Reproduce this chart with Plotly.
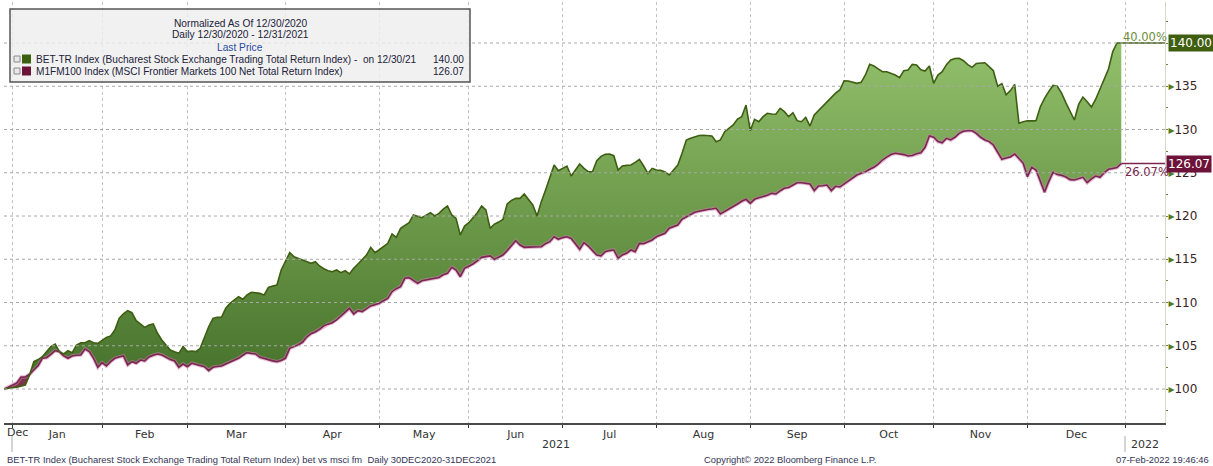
import plotly.graph_objects as go

# ---------------- data ----------------
def _m(ym, days):
    return ["%s-%02d" % (ym, d) for d in days]

dates = (["2020-12-30", "2020-12-31"]
         + _m("2021-01", (4, 5, 6, 7, 8, 11, 12, 13, 14, 15, 18, 19, 20, 21, 22, 25, 26, 27, 28, 29))
         + _m("2021-02", (1, 2, 3, 4, 5, 8, 9, 10, 11, 12, 15, 16, 17, 18, 19, 22, 23, 24, 25, 26))
         + _m("2021-03", (1, 2, 3, 4, 5, 8, 9, 10, 11, 12, 15, 16, 17, 18, 19, 22, 23, 24, 25, 26, 29, 30, 31))
         + _m("2021-04", (1, 2, 5, 6, 7, 8, 9, 12, 13, 14, 15, 16, 19, 20, 21, 22, 23, 26, 27, 28, 29, 30))
         + _m("2021-05", (3, 4, 5, 6, 7, 10, 11, 12, 13, 14, 17, 18, 19, 20, 21, 24, 25, 26, 27, 28, 31))
         + _m("2021-06", (1, 2, 3, 4, 7, 8, 9, 10, 11, 14, 15, 16, 17, 18, 21, 22, 23, 24, 25, 28, 29, 30))
         + _m("2021-07", (1, 2, 5, 6, 7, 8, 9, 12, 13, 14, 15, 16, 19, 20, 21, 22, 23, 26, 27, 28, 29, 30))
         + _m("2021-08", (2, 3, 4, 5, 6, 9, 10, 11, 12, 13, 16, 17, 18, 19, 20, 23, 24, 25, 26, 27, 30, 31))
         + _m("2021-09", (1, 2, 3, 6, 7, 8, 9, 10, 13, 14, 15, 16, 17, 20, 21, 22, 23, 24, 27, 28, 29, 30))
         + _m("2021-10", (1, 4, 5, 6, 7, 8, 11, 12, 13, 14, 15, 18, 19, 20, 21, 22, 25, 26, 27, 28, 29))
         + _m("2021-11", (1, 2, 3, 4, 5, 8, 9, 10, 11, 12, 15, 16, 17, 18, 19, 22, 23, 24, 25, 26, 29, 30))
         + _m("2021-12", (1, 2, 3, 6, 7, 8, 9, 10, 13, 14, 15, 16, 17, 20, 21, 22, 23, 24, 27, 28, 29, 30, 31)))

bet = ([100.0, 100.1]
       + [100.2, 100.35, 100.46, 101.62, 103.16, 103.4, 103.74, 104.32, 104.9, 105.2, 104.32, 104.05, 104.43, 104.2, 105.09, 105.35, 105.35, 105.59, 105.35, 105.28]
       + [105.6, 105.97, 106.13, 106.82, 108.17, 108.7, 109.05, 108.82, 107.9, 107.5, 107.13, 107.4, 107.51, 106.44, 105.66, 105.09, 104.51, 104.3, 104.12, 104.9]
       + [104.32, 104.4, 104.32, 104.7, 105.9, 107.2, 108.17, 108.3, 108.29, 109.33, 109.9, 110.3, 110.67, 110.37, 110.87, 111.18, 111.1, 111.06, 110.87, 111.75, 111.9, 112.02, 113.76]
       + [114.8, 115.76, 115.3, 115.1, 114.9, 114.72, 114.53, 114.72, 114.22, 113.9, 113.68, 113.56, 113.76, 113.45, 113.68, 113.3, 113.95, 114.45, 115.0, 115.49, 116.38, 115.76]
       + [116.1, 116.45, 116.84, 117.92, 117.53, 118.57, 118.9, 119.22, 120.12, 120.0, 119.8, 120.1, 120.38, 120.0, 120.31, 120.8, 121.16, 120.12, 119.73, 117.8, 118.84]
       + [119.22, 119.8, 120.38, 121.16, 120.69, 118.57, 119.07, 119.3, 119.61, 121.39, 121.8, 122.04, 122.04, 122.54, 121.9, 121.27, 120.0, 121.66, 123.01, 124.5, 125.9, 125.24]
       + [125.5, 125.78, 124.62, 125.3, 126.01, 125.5, 125.12, 125.12, 126.39, 126.9, 127.13, 127.17, 126.97, 125.32, 125.78, 125.85, 125.9, 126.2, 126.55, 125.78, 124.93, 125.51]
       + [125.32, 125.28, 125.1, 124.74, 125.3, 125.9, 127.25, 128.79, 129.0, 129.17, 129.3, 129.33, 129.3, 129.25, 128.59, 128.79, 129.75, 130.1, 130.52, 131.2, 131.48, 132.83]
       + [129.87, 131.18, 130.9, 131.48, 131.87, 131.8, 131.76, 132.45, 132.06, 131.48, 131.94, 131.02, 130.9, 131.41, 130.4, 131.68, 132.18, 132.7, 133.21, 133.8, 134.2, 134.57]
       + [135.64, 135.6, 135.5, 135.34, 135.45, 136.3, 137.53, 137.34, 137.0, 136.68, 136.68, 136.5, 136.3, 135.99, 136.8, 136.87, 137.53, 137.45, 136.9, 136.75, 137.34]
       + [135.34, 136.3, 136.68, 137.5, 138.03, 138.2, 138.23, 137.95, 137.5, 137.19, 137.64, 137.7, 137.72, 137.26, 136.8, 135.0, 135.3, 134.0, 134.5, 135.22, 130.72, 130.9]
       + [131.02, 131.0, 131.02, 132.6, 133.6, 134.4, 135.1, 135.0, 134.2, 133.1, 132.0, 131.1, 132.9, 133.75, 133.2, 132.6, 133.5, 134.7, 135.9, 137.0, 139.0, 140.0, 140.0])

msci = ([100.0, 100.2]
        + [100.7, 101.39, 101.39, 101.7, 102.2, 102.7, 103.55, 103.62, 104.0, 104.43, 104.3, 103.82, 103.55, 103.82, 103.9, 103.93, 104.63, 104.32, 103.55, 102.51]
        + [103.05, 102.66, 103.16, 103.55, 103.7, 103.82, 102.78, 103.16, 102.97, 103.35, 103.24, 103.7, 103.9, 104.05, 103.93, 103.66, 103.4, 103.24, 102.51, 102.89]
        + [102.58, 102.97, 102.85, 102.7, 102.58, 102.12, 102.51, 102.6, 102.66, 102.9, 103.09, 103.28, 103.55, 103.9, 104.2, 104.1, 104.05, 103.66, 103.5, 103.35, 103.25, 103.16, 103.3]
        + [103.55, 104.7, 104.9, 105.1, 105.4, 106.0, 106.4, 106.6, 106.9, 107.3, 107.5, 107.66, 107.98, 108.4, 108.82, 109.33, 108.67, 109.05, 108.94, 109.3, 109.6, 109.75]
        + [109.9, 110.2, 110.48, 111.25, 111.6, 111.83, 112.8, 112.87, 112.5, 112.22, 112.52, 112.6, 112.68, 112.8, 112.9, 113.2, 113.37, 114.07, 113.76, 112.98, 113.95]
        + [114.2, 114.45, 114.8, 115.22, 115.3, 115.38, 114.99, 115.2, 115.49, 116.0, 116.6, 117.14, 116.65, 116.38, 116.4, 116.4, 116.4, 116.45, 116.8, 117.03, 117.6, 117.3]
        + [117.5, 117.6, 117.4, 116.7, 116.15, 116.92, 116.53, 116.0, 115.49, 115.38, 115.87, 116.0, 116.07, 115.11, 115.5, 115.68, 116.07, 115.87, 116.84, 116.8, 117.0, 117.23]
        + [117.61, 117.8, 118.0, 118.58, 118.8, 118.96, 119.62, 119.9, 120.12, 120.43, 120.55, 120.69, 120.76, 120.8, 120.89, 120.23, 120.5, 120.76, 121.1, 121.39, 121.7, 121.93]
        + [121.47, 121.93, 122.1, 122.23, 122.4, 122.62, 122.54, 122.9, 123.2, 123.3, 123.6, 123.85, 123.85, 123.8, 123.7, 122.93, 123.47, 123.5, 123.58, 122.93, 123.43, 123.35]
        + [123.7, 123.97, 124.4, 124.74, 124.93, 125.1, 125.4, 125.63, 126.0, 126.47, 126.8, 127.1, 127.25, 127.2, 127.1, 126.94, 127.0, 127.2, 127.3, 127.94, 129.25]
        + [129.1, 128.6, 128.47, 128.98, 128.79, 129.1, 129.56, 129.8, 129.86, 129.86, 129.56, 129.1, 128.79, 128.6, 128.21, 127.3, 126.55, 126.7, 126.83, 127.17, 126.6, 126.09]
        + [124.55, 125.63, 125.32, 124.0, 122.74, 124.0, 125.05, 124.8, 124.7, 124.5, 124.2, 124.16, 124.3, 124.47, 123.85, 124.3, 124.62, 124.47, 125.0, 125.4, 125.5, 125.6, 126.07])

assert len(dates) == len(bet) == len(msci), (len(dates), len(bet), len(msci))

month_labels = ["Jan", "Feb", "Mar", "Apr", "May", "Jun", "Jul", "Aug", "Sep", "Oct", "Nov", "Dec"]
month_label_pos = ["2021-01-15 12:00", "2021-02-15", "2021-03-16 12:00", "2021-04-16", "2021-05-17 12:00",
                   "2021-06-16", "2021-07-16", "2021-08-17", "2021-09-16", "2021-10-15 12:00",
                   "2021-11-16", "2021-12-16 12:00"]
month_starts = ["2021-01-01", "2021-02-01", "2021-03-01", "2021-04-01", "2021-05-03", "2021-06-01",
                "2021-07-01", "2021-08-02", "2021-09-01", "2021-10-01", "2021-11-01", "2021-12-01",
                "2022-01-03"]
y_ticks = [100, 105, 110, 115, 120, 125, 130, 135, 140]
y_tick_text = ["100", "105", "110", "115", "120", "125", "130", "135", ""]

bet_name = "BET-TR Index (Bucharest Stock Exchange Trading Total Return Index)"
msci_name = "M1FM100 Index (MSCI Frontier Markets 100 Net Total Return Index)"

# ---------------- styling ----------------
W, H = 1213, 466
L, R, T, B = 4, 1165, 2, 423
X_RANGE = ["2020-12-30", "2022-01-14 06:00"]
Y_RANGE = [96.07, 144.74]

GREEN_LINE = "#3e5e12"
MAROON_LINE = "#7a2552"
TXT = "#22223a"
FONT = "DejaVu Sans"
FONT2 = "Liberation Sans"


def px(x):
    return (x - L) / (R - L)


def py(y):
    return (B - y) / (B - T)


fig = go.Figure()

# fill between the two series
fig.add_trace(go.Scatter(x=dates, y=msci, mode="lines", line=dict(width=0),
                         showlegend=False, hoverinfo="skip"))
fig.add_trace(go.Scatter(x=dates, y=bet, mode="lines", line=dict(width=0), fill="tonexty",
                         fillgradient=dict(type="vertical",
                                           colorscale=[[0, "#456f2a"], [0.5, "#6c9a4a"], [1, "#92c06c"]]),
                         showlegend=False, hoverinfo="skip"))
# early section where MSCI sits above BET
n0 = 6
fig.add_trace(go.Scatter(x=dates[:n0], y=bet[:n0], mode="lines", line=dict(width=0),
                         showlegend=False, hoverinfo="skip"))
fig.add_trace(go.Scatter(x=dates[:n0], y=msci[:n0], mode="lines", line=dict(width=0), fill="tonexty",
                         fillcolor="#7b3549", showlegend=False, hoverinfo="skip"))

# lines
fig.add_trace(go.Scatter(x=dates, y=msci, mode="lines", line=dict(color="rgba(205,130,170,0.55)", width=3.6),
                         showlegend=False, hoverinfo="skip"))
fig.add_trace(go.Scatter(x=dates, y=msci, mode="lines", line=dict(color=MAROON_LINE, width=1.6),
                         name=msci_name, showlegend=False))
fig.add_trace(go.Scatter(x=dates, y=bet, mode="lines", line=dict(color=GREEN_LINE, width=1.6),
                         name=bet_name, showlegend=False))
# extension to the right axis
fig.add_trace(go.Scatter(x=[dates[-1], X_RANGE[1]], y=[bet[-1], bet[-1]], mode="lines",
                         line=dict(color=GREEN_LINE, width=1.6), showlegend=False, hoverinfo="skip",
                         cliponaxis=False))
fig.add_trace(go.Scatter(x=[dates[-1], X_RANGE[1]], y=[msci[-1], msci[-1]], mode="lines",
                         line=dict(color=MAROON_LINE, width=1.6), showlegend=False, hoverinfo="skip",
                         cliponaxis=False))

ann = []
shapes = []

# horizontal dotted grid lines
for v in y_ticks:
    shapes.append(dict(type="line", xref="paper", yref="y", x0=0, x1=1, y0=v, y1=v,
                       line=dict(color="#a8a8a8", width=1, dash="dot"), layer="above"))

# value tags on the right axis
ann.append(dict(x=1, xref="paper", y=bet[-1], yref="y", xanchor="left", yanchor="middle", xshift=3,
                text="%.2f" % bet[-1], showarrow=False, bgcolor="#3f5e10", borderpad=1,
                font=dict(family=FONT, size=12, color="white")))
ann.append(dict(x=1, xref="paper", y=msci[-1], yref="y", xanchor="left", yanchor="middle", xshift=1,
                text="%.2f" % msci[-1], showarrow=False, bgcolor="#6d1238", borderpad=1,
                font=dict(family=FONT, size=12, color="white")))
# percentage labels
ann.append(dict(x=dates[-1], y=bet[-1], xref="x", yref="y", xanchor="left", yanchor="bottom",
                xshift=0, yshift=-3, text="%.2f%%" % (bet[-1] - 100), showarrow=False,
                font=dict(family=FONT, size=11.5, color="#6e8c3c")))
ann.append(dict(x=dates[-1], y=msci[-1], xref="x", yref="y", xanchor="left", yanchor="top",
                xshift=2, yshift=1, text="%.2f%%" % (msci[-1] - 100), showarrow=False,
                font=dict(family=FONT, size=11.5, color=MAROON_LINE)))

# legend box
shapes.append(dict(type="rect", xref="paper", yref="paper", x0=px(10), x1=px(470), y0=py(82), y1=py(9),
                   line=dict(color="#555555", width=1.5), fillcolor="rgba(238,238,238,0.82)", layer="above"))
ann.append(dict(x=px(240), y=py(23), xref="paper", yref="paper", text="Normalized As Of 12/30/2020",
                showarrow=False, xanchor="center", yanchor="middle",
                font=dict(family=FONT2, size=10.2, color=TXT)))
ann.append(dict(x=px(240), y=py(34.5), xref="paper", yref="paper", text="Daily 12/30/2020 - 12/31/2021",
                showarrow=False, xanchor="center", yanchor="middle",
                font=dict(family=FONT2, size=10.2, color=TXT)))
ann.append(dict(x=px(240), y=py(47), xref="paper", yref="paper", text="Last Price",
                showarrow=False, xanchor="center", yanchor="middle",
                font=dict(family=FONT2, size=10.2, color="#2b4a9c")))
for row_y, col, name, tail, val in [(59, "#3d6010", bet_name, " -  on 12/30/21", bet[-1]),
                                    (71, "#6d1238", msci_name, "", msci[-1])]:
    shapes.append(dict(type="rect", xref="paper", yref="paper", x0=px(14), x1=px(20), y0=py(row_y + 3),
                       y1=py(row_y - 3), line=dict(color="#8a8a8a", width=1), fillcolor="#e8e8e8",
                       layer="above"))
    shapes.append(dict(type="rect", xref="paper", yref="paper", x0=px(22), x1=px(31), y0=py(row_y + 4.5),
                       y1=py(row_y - 4.5), line=dict(width=0), fillcolor=col, layer="above"))
    ann.append(dict(x=px(34), y=py(row_y), xref="paper", yref="paper", text=name + tail,
                    showarrow=False, xanchor="left", yanchor="middle",
                    font=dict(family=FONT2, size=10.1, color=TXT)))
    ann.append(dict(x=px(466), y=py(row_y), xref="paper", yref="paper", text="%.2f" % val,
                    showarrow=False, xanchor="right", yanchor="middle",
                    font=dict(family=FONT2, size=10.1, color=TXT)))

# x-axis extra labels
ann.append(dict(x=px(5), y=py(432), xref="paper", yref="paper", text="Dec", showarrow=False,
                xanchor="left", yanchor="middle", font=dict(family=FONT, size=11, color="#333333")))
ann.append(dict(x=px(556), y=py(444), xref="paper", yref="paper", text="2021", showarrow=False,
                xanchor="center", yanchor="middle", font=dict(family=FONT, size=11, color="#333333")))
ann.append(dict(x=px(1129), y=py(444), xref="paper", yref="paper", text="2022", showarrow=False,
                xanchor="left", yanchor="middle", font=dict(family=FONT, size=11, color="#333333")))
for sx in (12, 1125):
    shapes.append(dict(type="line", xref="paper", yref="paper", x0=px(sx), x1=px(sx), y0=py(452), y1=py(436),
                       line=dict(color="#aaaaaa", width=1)))

# footer
ann.append(dict(x=px(5), y=py(459), xref="paper", yref="paper",
                text=bet_name + " bet vs msci fm  Daily 30DEC2020-31DEC2021", showarrow=False,
                xanchor="left", yanchor="middle", font=dict(family=FONT2, size=9.4, color="#333355")))
ann.append(dict(x=px(790), y=py(459), xref="paper", yref="paper",
                text="Copyright© 2022 Bloomberg Finance L.P.", showarrow=False,
                xanchor="center", yanchor="middle", font=dict(family=FONT2, size=9.4, color="#333355")))
ann.append(dict(x=px(1211), y=py(459), xref="paper", yref="paper",
                text="07-Feb-2022 19:46:46", showarrow=False,
                xanchor="right", yanchor="middle", font=dict(family=FONT2, size=9.4, color="#333355")))

fig.update_layout(
    width=W, height=H,
    margin=dict(l=L, r=W - R, t=T, b=H - B, pad=0),
    paper_bgcolor="white", plot_bgcolor="white",
    showlegend=False,
    annotations=ann, shapes=shapes,
    xaxis=dict(type="date", range=X_RANGE,
               rangebreaks=[dict(bounds=["sat", "mon"])],
               tickmode="array", tickvals=month_label_pos, ticktext=month_labels,
               ticks="", showgrid=False, zeroline=False,
               showline=True, linecolor="#4a4a4a", linewidth=2,
               tickfont=dict(family=FONT, size=11, color="#333333"),
               minor=dict(tickmode="array", tickvals=month_starts, showgrid=True,
                          gridcolor="#c4c4c4", griddash="dot", gridwidth=1,
                          ticks="outside", ticklen=3, tickcolor="#333333")),
    yaxis=dict(side="right", range=Y_RANGE, tickmode="array", tickvals=y_ticks,
               ticktext=[('<span style="color:#4f7a1e">\u25b8</span>' + t) if t else "" for t in y_tick_text],
               ticks="", showgrid=False,
               zeroline=False, showline=True, linecolor="#d8d8c8", linewidth=1,
               tickfont=dict(family=FONT, size=12, color="#3a1f24"),
               minor=dict(dtick=2.5, tick0=0, ticks="outside", ticklen=2,
                          tickcolor="#6a8a3a", showgrid=False)),
)

fig.write_html("out.html", config={"displayModeBar": False},
               post_script="document.body.style.margin='0';")
